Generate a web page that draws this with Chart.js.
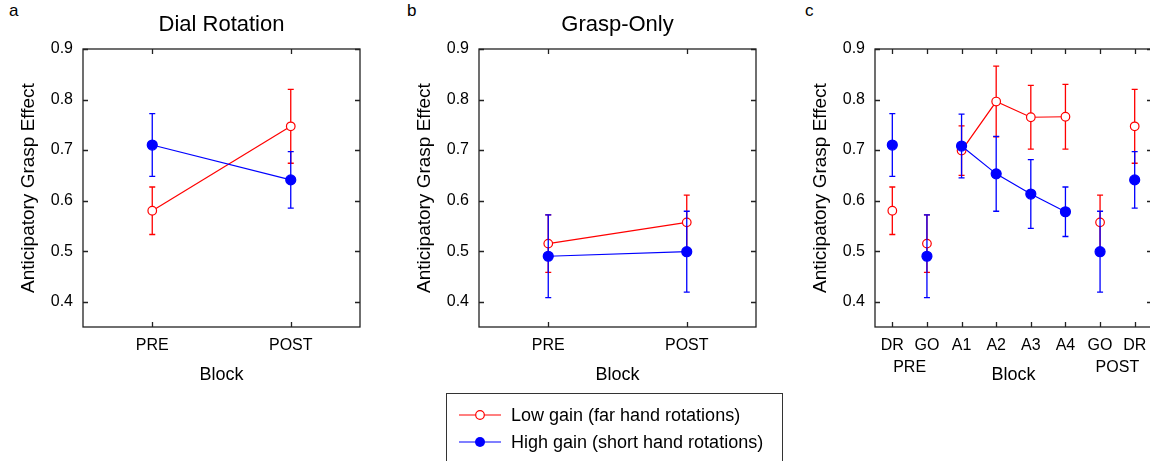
<!DOCTYPE html>
<html>
<head>
<meta charset="utf-8">
<script src="https://cdn.jsdelivr.net/npm/chart.js@4.4.1/dist/chart.umd.min.js"></script>
<style>
  body { margin: 0; width: 1150px; height: 461px; overflow: hidden; background: #fff; position: relative;
         font-family: 'Liberation Sans', Arial, sans-serif; color: #000; }
  .panel { position: absolute; top: 0; width: 380px; height: 400px; }
  .letter { position: absolute; top: 1px; font-size: 17px; }
  #legend { position: absolute; left: 446px; top: 393px; width: 337px; height: 80px; border: 1px solid #333; box-sizing: border-box; }
  .row { position: absolute; left: 12px; height: 22px; display: flex; align-items: center; font-size: 18px; white-space: nowrap; }
  .row svg { margin-right: 10px; }
</style>
</head>
<body>
<div class="letter" style="left:9px">a</div>
<div class="letter" style="left:407px">b</div>
<div class="letter" style="left:805px">c</div>
<div class="panel" style="left:0px"><canvas id="chartA"></canvas></div>
<div class="panel" style="left:396px"><canvas id="chartB"></canvas></div>
<div class="panel" style="left:792px"><canvas id="chartC"></canvas></div>
<div id="legend">
  <div class="row" style="top:10px">
    <svg width="42" height="12"><line x1="0" y1="6" x2="42" y2="6" stroke="#ff0000" stroke-width="1.2"/><circle cx="21" cy="6" r="4.3" fill="#fff" stroke="#ff0000" stroke-width="1.2"/></svg>
    <span>Low gain (far hand rotations)</span>
  </div>
  <div class="row" style="top:37px">
    <svg width="42" height="12"><line x1="0" y1="6" x2="42" y2="6" stroke="#0000ff" stroke-width="1.2"/><circle cx="21" cy="6" r="5" fill="#0000ff"/></svg>
    <span>High gain (short hand rotations)</span>
  </div>
</div>
<script>
'use strict';
const prePost = ['PRE', 'POST'];
const blocksC = ['DR', 'GO', 'A1', 'A2', 'A3', 'A4', 'GO', 'DR'];
const yTicks = [0.4, 0.5, 0.6, 0.7, 0.8, 0.9];

// dial rotation (a)
const dialLow = [0.580, 0.747];
const dialLowErr = [0.047, 0.073];
const dialHigh = [0.710, 0.641];
const dialHighErr = [0.062, 0.056];
// grasp only (b)
const graspLow = [0.515, 0.557];
const graspLowErr = [0.057, 0.054];
const graspHigh = [0.490, 0.499];
const graspHighErr = [0.082, 0.080];
// adaptation blocks A1..A4 (c)
const adaptLow = [0.699, 0.796, 0.765, 0.766];
const adaptLowErr = [0.049, 0.070, 0.063, 0.064];
const adaptHigh = [0.708, 0.653, 0.613, 0.578];
const adaptHighErr = [0.063, 0.074, 0.068, 0.049];

const RED = '#ff0000';
const BLUE = '#0000ff';
const FONT = "'Liberation Sans', Arial, sans-serif";
Chart.defaults.font.family = FONT;
Chart.defaults.color = '#000';

// error bars drawn just before each dataset so the draw order follows the series
const errorBars = {
  id: 'errorBars',
  beforeDatasetDraw(chart, args) {
    const ds = chart.data.datasets[args.index];
    if (!ds.err) return;
    const ctx = chart.ctx;
    const y = chart.scales.y;
    ctx.save();
    ctx.strokeStyle = ds.borderColor;
    ctx.lineWidth = 1.3;
    args.meta.data.forEach((pt, i) => {
      const top = y.getPixelForValue(ds.vals[i] + ds.err[i]);
      const bot = y.getPixelForValue(ds.vals[i] - ds.err[i]);
      ctx.beginPath();
      ctx.moveTo(pt.x, top); ctx.lineTo(pt.x, bot);
      ctx.moveTo(pt.x - 3, top); ctx.lineTo(pt.x + 3, top);
      ctx.moveTo(pt.x - 3, bot); ctx.lineTo(pt.x + 3, bot);
      ctx.stroke();
    });
    ctx.restore();
  }
};

// gnuplot style frame: box, inward ticks on all sides, panel title, group labels
const frame = {
  id: 'frame',
  afterDraw(chart, args, opts) {
    const ctx = chart.ctx;
    const a = chart.chartArea;
    const xs = chart.scales.x;
    const ys = chart.scales.y;
    ctx.save();
    ctx.strokeStyle = '#222';
    ctx.lineWidth = 1.3;
    ctx.strokeRect(a.left, a.top, a.right - a.left, a.bottom - a.top);
    ctx.beginPath();
    yTicks.forEach(v => {
      const py = Math.round(ys.getPixelForValue(v)) + 0.5;
      ctx.moveTo(a.left, py); ctx.lineTo(a.left + 5, py);
      ctx.moveTo(a.right, py); ctx.lineTo(a.right - 5, py);
    });
    xs.ticks.forEach((t, i) => {
      const px = Math.round(xs.getPixelForTick(i)) + 0.5;
      ctx.moveTo(px, a.bottom); ctx.lineTo(px, a.bottom - 5);
      ctx.moveTo(px, a.top); ctx.lineTo(px, a.top + 5);
    });
    ctx.stroke();
    ctx.fillStyle = '#000';
    ctx.textAlign = 'center';
    ctx.textBaseline = 'middle';
    if (opts.title) {
      ctx.font = '22px ' + FONT;
      ctx.fillText(opts.title, (a.left + a.right) / 2, 25);
    }
    (opts.groups || []).forEach(g => {
      ctx.font = '16px ' + FONT;
      const gx = (xs.getPixelForTick(g.from) + xs.getPixelForTick(g.to)) / 2;
      ctx.fillText(g.text, gx, 368);
    });
    ctx.restore();
  }
};

function series(label, color, vals, err, filled, extra) {
  return Object.assign({
    label: label,
    vals: vals,
    err: err,
    borderColor: color,
    borderWidth: 1.2,
    pointRadius: filled ? 5 : 4.3,
    pointBorderWidth: 1.2,
    pointBackgroundColor: filled ? color : '#fff',
    pointBorderColor: color,
    order: filled ? 1 : 2,
    fill: false,
    tension: 0
  }, extra || {});
}

function makeChart(id, xScale, datasets, frameOpts) {
  new Chart(document.getElementById(id), {
    type: 'line',
    data: { labels: xScale.labels, datasets: datasets },
    options: {
      responsive: true,
      maintainAspectRatio: false,
      animation: false,
      layout: { padding: { left: 0, right: 20, top: 49, bottom: 0 } },
      plugins: { legend: { display: false }, tooltip: { enabled: false }, frame: frameOpts },
      scales: {
        x: Object.assign({
          grid: { display: false, drawTicks: false },
          border: { display: false },
          ticks: { font: { size: 16 }, padding: 9, maxRotation: 0, autoSkip: false },
          title: { display: true, text: 'Block', font: { size: 18 }, padding: { top: 0, bottom: 14 } },
          afterFit: s => { s.height = 73; }
        }, xScale.opts),
        y: {
          min: 0.35,
          max: 0.9,
          grid: { display: false, drawTicks: false },
          border: { display: false },
          afterBuildTicks: s => { s.ticks = yTicks.map(v => ({ value: v })); },
          ticks: { font: { size: 16 }, padding: 10, callback: v => v.toFixed(1) },
          title: { display: true, text: 'Anticipatory Grasp Effect', font: { size: 19 }, padding: { top: 17, bottom: 0 } },
          afterFit: s => { s.width = 83; }
        }
      }
    },
    plugins: [errorBars, frame]
  });
}

const prePostScale = {
  labels: undefined,
  opts: {
    type: 'linear',
    min: -0.5,
    max: 1.5,
    afterBuildTicks: s => { s.ticks = prePost.map((p, i) => ({ value: i })); },
    ticks: { font: { size: 16 }, padding: 9, maxRotation: 0, autoSkip: false, callback: v => prePost[v] }
  }
};
const xy = vals => vals.map((v, i) => ({ x: i, y: v }));

makeChart('chartA', prePostScale, [
  series('Low gain (far hand rotations)', RED, dialLow, dialLowErr, false, { data: xy(dialLow) }),
  series('High gain (short hand rotations)', BLUE, dialHigh, dialHighErr, true, { data: xy(dialHigh) })
], { title: 'Dial Rotation' });

makeChart('chartB', prePostScale, [
  series('Low gain (far hand rotations)', RED, graspLow, graspLowErr, false, { data: xy(graspLow) }),
  series('High gain (short hand rotations)', BLUE, graspHigh, graspHighErr, true, { data: xy(graspHigh) })
], { title: 'Grasp-Only' });

// panel c: PRE (DR, GO), adaptation A1..A4, POST (GO, DR)
const lowC = [dialLow[0], graspLow[0]].concat(adaptLow, [graspLow[1], dialLow[1]]);
const lowErrC = [dialLowErr[0], graspLowErr[0]].concat(adaptLowErr, [graspLowErr[1], dialLowErr[1]]);
const highC = [dialHigh[0], graspHigh[0]].concat(adaptHigh, [graspHigh[1], dialHigh[1]]);
const highErrC = [dialHighErr[0], graspHighErr[0]].concat(adaptHighErr, [graspHighErr[1], dialHighErr[1]]);
// only the adaptation blocks are joined by lines
const joined = color => ({ borderColor: c => (c.p0DataIndex >= 2 && c.p1DataIndex <= 5) ? color : 'rgba(0,0,0,0)' });

makeChart('chartC', { labels: blocksC, opts: { type: 'category', offset: true } }, [
  series('Low gain (far hand rotations)', RED, lowC, lowErrC, false, { data: lowC, segment: joined(RED) }),
  series('High gain (short hand rotations)', BLUE, highC, highErrC, true, { data: highC, segment: joined(BLUE) })
], { groups: [{ from: 0, to: 1, text: 'PRE' }, { from: 6, to: 7, text: 'POST' }] });
</script>
</body>
</html>
